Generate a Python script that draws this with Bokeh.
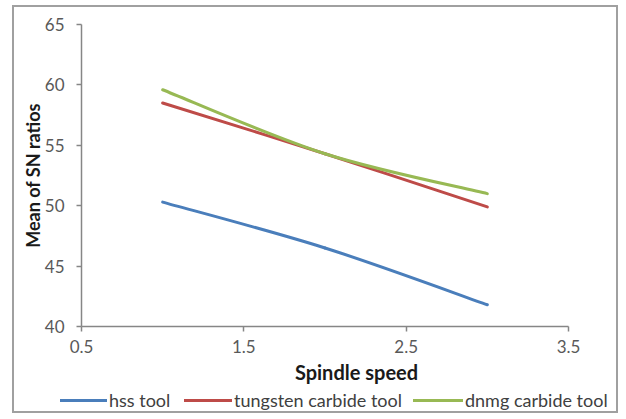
from bokeh.plotting import figure
from bokeh.models import Range1d, FixedTicker, Legend, LegendItem, Label, LinearAxis
from bokeh.embed import file_html
from bokeh.resources import INLINE

# ---- data ----
speed = [1, 2, 3]
hss_tool = [50.3, 46.5, 41.8]
tungsten_tool = [58.5, 54.3, 49.9]
dnmg_tool = [59.6, 54.3, 51.0]
series_names = ["hss tool", "tungsten carbide tool", "dnmg carbide tool"]
x_ticks = [0.5, 1.5, 2.5, 3.5]
y_ticks = [40, 45, 50, 55, 60, 65]

colors = ["#4a7ebb", "#be4b48", "#98b954"]
FONT = "Lato"

# canvas geometry (px) and where the plot area sits inside it
W, H = 606, 408
PL, PR, PT, PB = 67, 554, 17, 319          # plot-area edges inside canvas
XMIN, XMAX, YMIN, YMAX = 0.5, 3.5, 40, 65
sx = (PR - PL) / (XMAX - XMIN)
sy = (PB - PT) / (YMAX - YMIN)
x_range = Range1d(XMIN - PL / sx, XMAX + (W - PR) / sx)
y_range = Range1d(YMIN - (H - PB) / sy, YMAX + PT / sy)

p = figure(width=W, height=H, output_backend="svg", toolbar_location=None,
           x_range=x_range, y_range=y_range,
           x_axis_location=None, y_axis_location=None,
           min_border=0, min_border_left=0, min_border_right=0,
           min_border_top=0, min_border_bottom=0,
           styles={"position": "absolute", "left": "12px", "top": "5px",
                   "border": "2px solid #a0a0a0"})
p.outline_line_color = None
p.xgrid.visible = False
p.ygrid.visible = False
p.background_fill_color = "white"
p.border_fill_color = "white"

xaxis = LinearAxis(fixed_location=YMIN, bounds=(XMIN, XMAX), ticker=FixedTicker(ticks=x_ticks))
yaxis = LinearAxis(fixed_location=XMIN, bounds=(YMIN, YMAX), ticker=FixedTicker(ticks=y_ticks))
for ax in (xaxis, yaxis):
    ax.axis_line_color = "#868686"
    ax.axis_line_width = 1.5
    ax.major_tick_line_color = "#868686"
    ax.major_tick_line_width = 1.5
    ax.major_tick_in = 0
    ax.major_tick_out = 5
    ax.minor_tick_line_color = None
    ax.major_label_text_color = "#595959"
    ax.major_label_text_font = FONT
    ax.major_label_text_font_size = "17px"
xaxis.major_label_standoff = 8
yaxis.major_label_standoff = 12
yaxis.axis_label = "Mean of SN ratios"
yaxis.axis_label_text_font = FONT
yaxis.axis_label_text_font_style = "bold"
yaxis.axis_label_text_font_size = "18px"
yaxis.axis_label_text_color = "#1a1a1a"
yaxis.axis_label_standoff = -2
p.add_layout(xaxis, "below")
p.add_layout(yaxis, "left")


def smooth_controls(xs, ys):
    """Excel-style smoothed line: cubic Bezier control points per segment."""
    n = len(xs)
    x0, y0, x1, y1, cx0, cy0, cx1, cy1 = [], [], [], [], [], [], [], []
    for i in range(n - 1):
        im1 = max(i - 1, 0)
        ip2 = min(i + 2, n - 1)
        x0.append(xs[i]); y0.append(ys[i])
        x1.append(xs[i + 1]); y1.append(ys[i + 1])
        cx0.append(xs[i] + (xs[i + 1] - xs[im1]) / 6.0)
        cy0.append(ys[i] + (ys[i + 1] - ys[im1]) / 6.0)
        cx1.append(xs[i + 1] - (xs[ip2] - xs[i]) / 6.0)
        cy1.append(ys[i + 1] - (ys[ip2] - ys[i]) / 6.0)
    return dict(x0=x0, y0=y0, x1=x1, y1=y1, cx0=cx0, cy0=cy0, cx1=cx1, cy1=cy1)


renderers = []
for ys, c in zip([hss_tool, tungsten_tool, dnmg_tool], colors):
    d = smooth_controls(speed, ys)
    r = p.bezier(x0=d["x0"], y0=d["y0"], x1=d["x1"], y1=d["y1"],
                 cx0=d["cx0"], cy0=d["cy0"], cx1=d["cx1"], cy1=d["cy1"],
                 line_color=c, line_width=3, line_cap="round")
    renderers.append(r)

# x axis title (shifted right as in the reference)
p.add_layout(Label(x=2.194, y=44, y_units="screen", text="Spindle speed",
                   text_align="center", text_baseline="middle",
                   text_font=FONT, text_font_style="bold", text_font_size="20px",
                   text_color="#1a1a1a"))

# separate one-item legends so each sits where the reference has it
legend_x = [46, 170, 399]
glyph_w = [47, 48, 50]
for name, r, lx, gw in zip(series_names, renderers, legend_x, glyph_w):
    lg = Legend(items=[LegendItem(label=name, renderers=[r])],
                location=(lx, 4), orientation="horizontal",
                padding=0, margin=0, border_line_color=None,
                background_fill_alpha=0, glyph_width=gw, glyph_height=20,
                label_height=20, label_standoff=2,
                label_text_font=FONT, label_text_font_size="18px",
                label_text_color="#404040")
    p.add_layout(lg, "center")

open("out.html", "w").write(file_html(p, INLINE))
